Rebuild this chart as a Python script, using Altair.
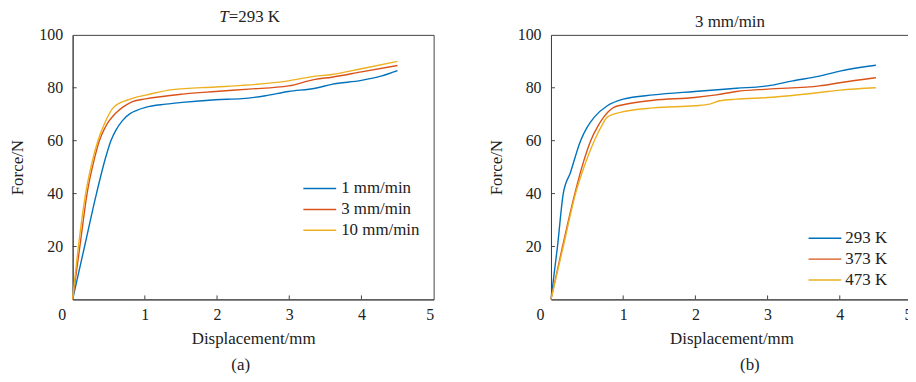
import altair as alt
import pandas as pd

FONT = "Liberation Serif"
FRAME = "#444444"

# ---------------- Panel (a): T = 293 K, different rates ----------------
a_names = ["1 mm/min", "3 mm/min", "10 mm/min"]
a1_x = [0, 0.165, 0.33, 0.45, 0.53, 0.6, 0.69, 0.8, 0.88, 1.01, 1.29, 1.52, 1.98, 2.35, 2.67, 2.99, 3.36, 3.59, 4.0, 4.27, 4.5]
a1_y = [0, 20, 40, 53, 60, 64, 67.6, 70.3, 71.4, 72.6, 73.8, 74.5, 75.5, 75.9, 77, 78.6, 79.8, 81.3, 82.8, 84.4, 86.5]
a3_x = [0, 0.1, 0.2, 0.3, 0.37, 0.45, 0.6, 0.7, 0.83, 1.01, 1.52, 1.98, 2.44, 2.99, 3.36, 3.59, 4.0, 4.5]
a3_y = [0, 20, 40, 53, 60, 65, 70.5, 72.8, 74.8, 75.8, 77.6, 78.6, 79.5, 80.7, 83.2, 84, 86, 88.4]
a10_x = [0, 0.08, 0.18, 0.27, 0.35, 0.45, 0.56, 0.65, 0.74, 0.85, 1.01, 1.38, 1.98, 2.35, 2.99, 3.36, 3.59, 4.0, 4.5]
a10_y = [0, 20, 40, 52, 60, 67, 72.4, 74.2, 75.2, 76.2, 77.2, 79.3, 80.3, 80.9, 82.6, 84.4, 85, 87.2, 90]

# ---------------- Panel (b): 3 mm/min, different temperatures ----------------
b_names = ["293 K", "373 K", "473 K"]
b293_x = [0, 0.09, 0.17, 0.27, 0.41, 0.5, 0.6, 0.78, 1.0, 1.42, 1.99, 2.57, 3.0, 3.35, 3.72, 4.0, 4.5]
b293_y = [0, 20, 40, 48, 60, 65, 68.9, 73.2, 75.7, 77.3, 78.6, 79.8, 80.7, 82.6, 84.4, 86.3, 88.5]
b373_x = [0, 0.16, 0.33, 0.45, 0.55, 0.65, 0.73, 0.87, 1.0, 1.42, 1.99, 2.29, 2.57, 3.0, 3.72, 4.0, 4.5]
b373_y = [0, 20, 40, 52, 60, 65.5, 68.9, 72.6, 73.6, 75.3, 76.3, 77.3, 78.6, 79.5, 80.7, 81.9, 83.8]
b473_x = [0, 0.17, 0.34, 0.47, 0.6, 0.7, 0.78, 0.96, 1.42, 1.99, 2.2, 2.34, 2.57, 3.0, 3.72, 4.0, 4.5]
b473_y = [0, 20, 40, 51, 60, 65.5, 68.9, 70.7, 72.4, 73.2, 73.8, 75.1, 75.7, 76.3, 78.2, 79.1, 80]

colors = ["#0072BD", "#D95319", "#EDB120"]

x_tick_vals = [0, 1, 2, 3, 4, 5]
y_tick_vals = [20, 40, 60, 80, 100]
inner_x_ticks = [1, 2, 3, 4]
inner_y_ticks = [20, 40, 60, 80]

W, H = 363, 266


def curves(names, xs, ys):
    rows = []
    for n, xv, yv in zip(names, xs, ys):
        for a, b in zip(xv, yv):
            rows.append({"series": n, "disp": a, "force": b})
    return pd.DataFrame(rows)


def panel(df, names, title_layers, caption, cap_x, leg_x, leg_y, leg_gap, leg_rowpad):
    x_enc = alt.X("disp:Q", scale=alt.Scale(domain=[0, 5], nice=False),
                  axis=alt.Axis(values=x_tick_vals, ticks=False, grid=False, title="Displacement/mm",
                                labelPadding=7, titlePadding=8, domainColor=FRAME,
                                labelOffset={"condition": {"test": "datum.value === 0", "value": -15}, "value": 0}))
    y_enc = alt.Y("force:Q", scale=alt.Scale(domain=[0, 100], nice=False),
                  axis=alt.Axis(values=y_tick_vals, ticks=False, grid=False, title="Force/N",
                                labelPadding=10, titlePadding=12, domainColor=FRAME))
    lines = alt.Chart(df).mark_line(strokeWidth=1.4, interpolate="monotone").encode(
        x=x_enc, y=y_enc,
        color=alt.Color("series:N", sort=names,
                        scale=alt.Scale(domain=names, range=colors),
                        legend=alt.Legend(title=None, orient="none", legendX=leg_x, legendY=leg_y,
                                          symbolType="M-3,0H3", symbolSize=121, symbolStrokeWidth=1.5,
                                          labelFont=FONT, labelFontSize=17, labelColor="#222",
                                          labelOffset=leg_gap, rowPadding=leg_rowpad, padding=0)),
    )
    xt = pd.DataFrame({"disp": inner_x_ticks, "force": [0] * 4, "force2": [1.5] * 4})
    yt = pd.DataFrame({"force": inner_y_ticks, "disp": [0] * 4, "disp2": [0.055] * 4})
    xticks = alt.Chart(xt).mark_rule(color=FRAME, strokeWidth=1).encode(
        x=x_enc, y=y_enc, y2="force2:Q")
    yticks = alt.Chart(yt).mark_rule(color=FRAME, strokeWidth=1).encode(
        x=x_enc, x2="disp2:Q", y=y_enc)
    one = pd.DataFrame({"k": [0]})
    cap = alt.Chart(one).mark_text(text=caption, font=FONT, fontSize=17, color="#222").encode(
        x=alt.value(cap_x), y=alt.value(332))
    layers = [lines, xticks, yticks, cap] + title_layers
    return alt.layer(*layers).properties(width=W, height=H).resolve_scale(color="independent")


one = pd.DataFrame({"k": [0]})
ta1 = alt.Chart(one).mark_text(text="T", font=FONT, fontSize=17, fontStyle="italic", align="right",
                               color="#222").encode(x=alt.value(157), y=alt.value(-18))
ta2 = alt.Chart(one).mark_text(text="=293 K", font=FONT, fontSize=17, align="left",
                               color="#222").encode(x=alt.value(157), y=alt.value(-18))
tb = alt.Chart(one).mark_text(text="3 mm/min", font=FONT, fontSize=17, color="#222").encode(
    x=alt.value(180), y=alt.value(-13))

left = panel(curves(a_names, [a1_x, a3_x, a10_x], [a1_y, a3_y, a10_y]), a_names,
             [ta1, ta2], "(a)", 169, 240, 146, 13, 3)
right = panel(curves(b_names, [b293_x, b373_x, b473_x], [b293_y, b373_y, b473_y]), b_names,
              [tb], "(b)", 200, 267, 196, 12, 3)

chart = alt.hconcat(left, right, spacing=52).resolve_scale(color="independent").properties(
    padding={"left": 0, "top": -2, "right": -5, "bottom": 0}
).configure_view(stroke=FRAME, strokeWidth=1).configure_axis(
    labelFont=FONT, titleFont=FONT, labelFontSize=16, titleFontSize=17,
    labelColor="#222", titleColor="#222", titleFontWeight="normal", domainWidth=1
)

chart.save("out.html", embed_options={"renderer": "svg", "actions": False})
